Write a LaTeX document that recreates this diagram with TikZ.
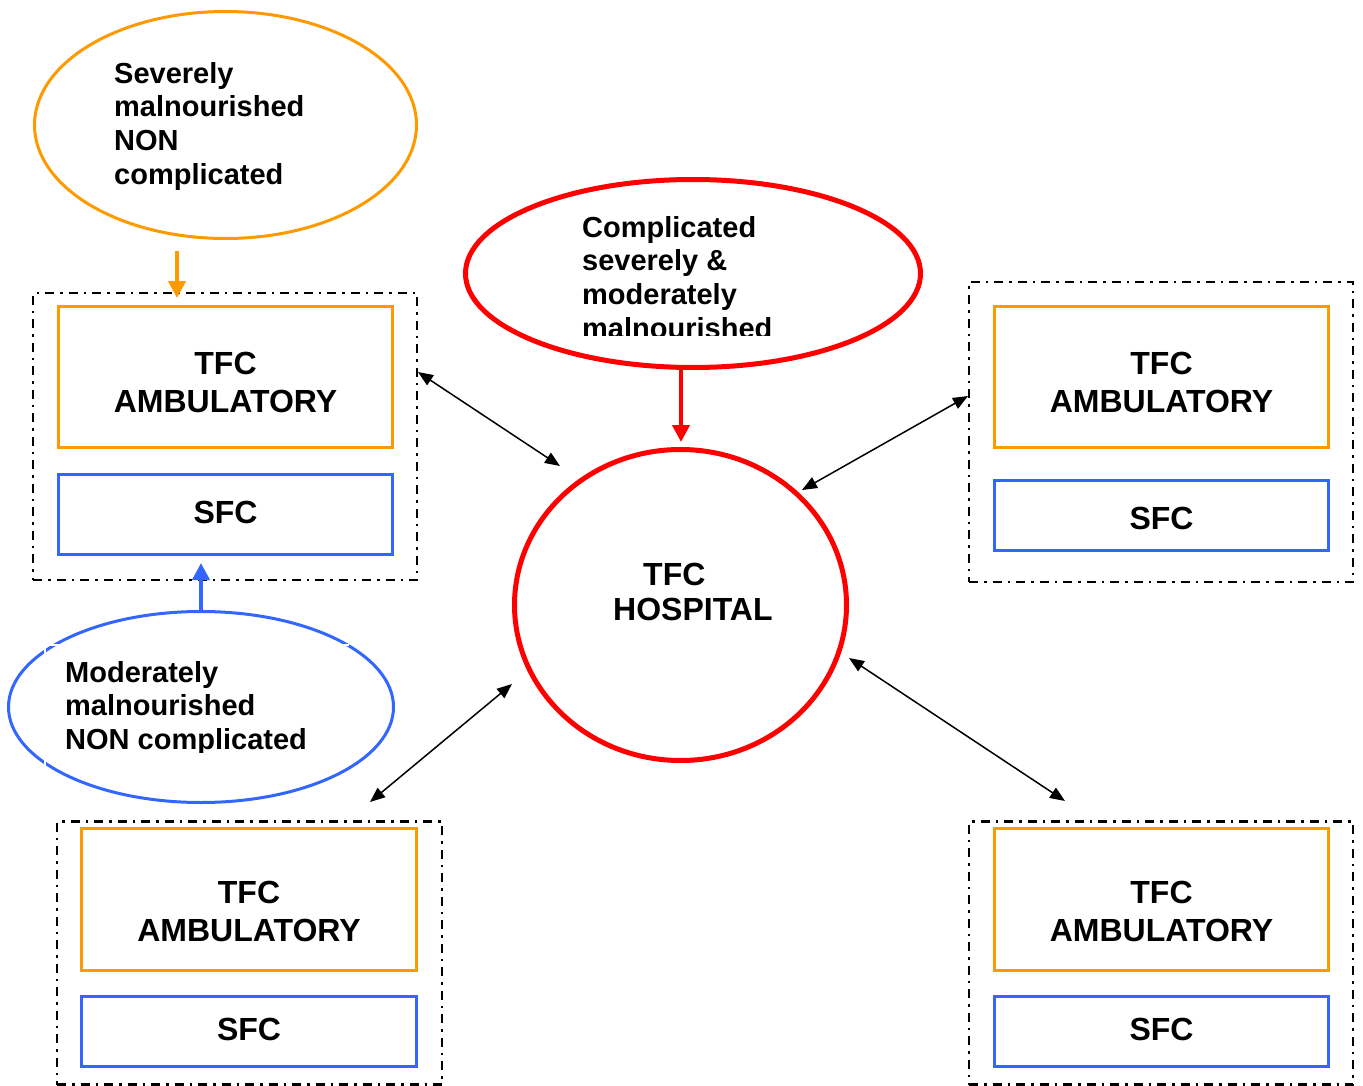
\documentclass[tikz,border=0pt]{standalone}
\usepackage{fontspec}
\setmainfont{Liberation Sans}
\usetikzlibrary{shapes.geometric,arrows.meta}
\definecolor{orng}{HTML}{FF9900}
\definecolor{blu}{HTML}{3366FF}
\definecolor{rd}{HTML}{FF0000}
\tikzset{
  grp/.style={draw=black,line width=2.4pt,dash pattern=on 9pt off 6pt on 2.5pt off 6pt,rectangle,inner sep=0pt},
  tfcbox/.style={draw=orng,line width=3.3pt,rectangle,inner sep=0pt,minimum width=334pt,minimum height=141pt},
  sfcbox/.style={draw=blu,line width=3.3pt,rectangle,inner sep=0pt,minimum width=334pt,minimum height=70pt},
  boxtext/.style={inner sep=0pt,align=center,font=\fontsize{32}{38}\selectfont\bfseries},
  elltext/.style={inner sep=0pt,align=left,anchor=north west,font=\fontsize{29}{33.7}\selectfont\bfseries},
  link/.style={line width=1.5pt,{Triangle[length=15pt,width=12pt]}-{Triangle[length=15pt,width=12pt]}},
  feed/.style={line width=4pt,-{Triangle[length=17pt,width=17pt]}},
  ell/.style={ellipse,inner sep=0pt}
}
\begin{document}
\begin{tikzpicture}[x=1pt,y=-1pt]
\useasboundingbox (0,0) rectangle (1363,1086);

% groups
\node[grp,minimum width=384pt,minimum height=287pt] (gTL) at (225,436.5) {};
\node[grp,minimum width=384pt,minimum height=300pt] (gTR) at (1161,432) {};
\node[grp,minimum width=385pt,minimum height=263pt] (gBL) at (249.5,953) {};
\node[grp,minimum width=384pt,minimum height=263pt] (gBR) at (1161,953) {};

% TFC ambulatory boxes
\node[tfcbox] (aTL) at (225.5,377) {};
\node[tfcbox] (aTR) at (1161.5,377) {};
\node[tfcbox,minimum width=335pt,minimum height=142pt] (aBL) at (249,899.5) {};
\node[tfcbox,minimum height=142pt] (aBR) at (1161.5,899.5) {};
\node[boxtext] (tTL) at (225.5,382.5) {TFC\\AMBULATORY};
\node[boxtext] (tTR) at (1161.5,382.5) {TFC\\AMBULATORY};
\node[boxtext] (tBL) at (249,911) {TFC\\AMBULATORY};
\node[boxtext] (tBR) at (1161.5,911) {TFC\\AMBULATORY};

% SFC boxes
\node[sfcbox,minimum height=80pt] (sTL) at (225.5,514.5) {};
\node[boxtext] (stTL) at (225.5,512.5) {SFC};
\node[sfcbox] (sTR) at (1161.5,515.5) {};
\node[boxtext] (stTR) at (1161.5,518.5) {SFC};
\node[sfcbox,minimum width=335pt] (sBL) at (249,1031.5) {};
\node[boxtext] (stBL) at (249,1029.5) {SFC};
\node[sfcbox] (sBR) at (1161.5,1031.5) {};
\node[boxtext] (stBR) at (1161.5,1029.5) {SFC};

% ellipses
\node[ell,draw=orng,line width=3pt,minimum width=382pt,minimum height=227pt] (eSev) at (225.5,125) {};
\node[elltext] (txSev) at (114,62) {Severely\\malnourished\\NON\\complicated};

\node[ell,draw=rd,line width=5pt,minimum width=455pt,minimum height=188pt] (eComp) at (693,273.5) {};
\begin{scope}
\clip (560,190) rectangle (900,335.5);
\node[elltext] (txComp) at (582,216) {Complicated\\severely \&\\moderately\\malnourished};
\end{scope}

\node[ell,draw=rd,line width=5pt,minimum width=332pt,minimum height=311pt] (hosp) at (680.5,605) {};
\node[inner sep=0pt,align=left,anchor=north west,font=\fontsize{32}{35}\selectfont\bfseries] (txHosp) at (613,563) {\hspace*{30pt}TFC\\HOSPITAL};

\node[ell,draw=blu,line width=3pt,minimum width=385pt,minimum height=191pt] (eMod) at (201,707) {};
\draw[white,line width=2pt] (349,645) -- (45,645) -- (45,768);
\begin{scope}
\clip (40,640) rectangle (360,752);
\node[elltext] (txMod) at (65,661) {Moderately\\malnourished\\NON complicated};
\end{scope}

% coordinates for connector ends
\coordinate (oa) at (177,251);
\coordinate (ob) at (177,298);
\coordinate (ba) at (201,563);
\coordinate (ra) at (681,370);
\coordinate (rb) at (681,442);
\coordinate (l1a) at (418,372);
\coordinate (l1b) at (560,466);
\coordinate (l2a) at (968,396);
\coordinate (l2b) at (802,490);
\coordinate (l3a) at (512,684);
\coordinate (l3b) at (370,802);
\coordinate (l4a) at (849,658);
\coordinate (l4b) at (1065,801);

% feeding arrows
\draw[feed,orng] (oa) -- (ob);
\draw[feed,blu] (eMod.north) -- (ba);
\draw[feed,rd] (ra) -- (rb);

% links
\draw[link] (l1a) -- (l1b);
\draw[link] (l2a) -- (l2b);
\draw[link] (l3a) -- (l3b);
\draw[link] (l4a) -- (l4b);
\end{tikzpicture}
\end{document}
